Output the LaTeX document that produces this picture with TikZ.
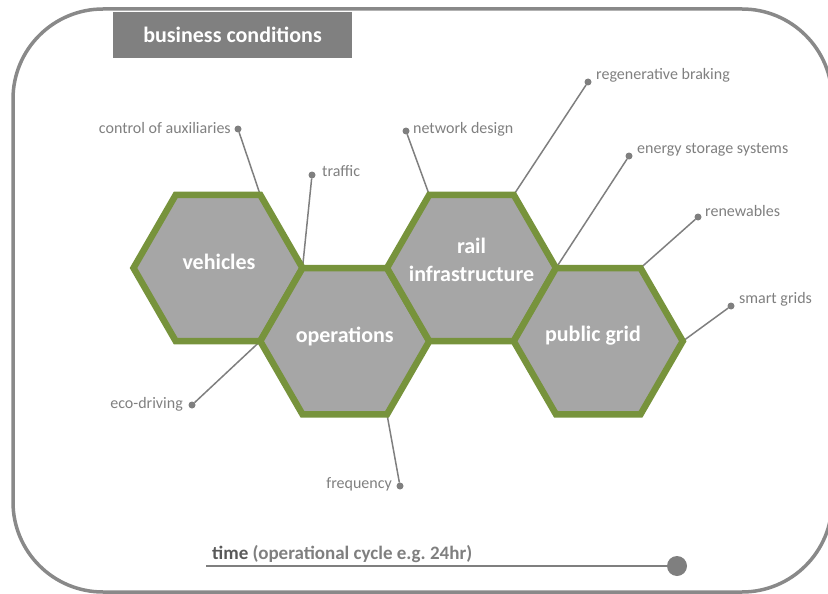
\documentclass[tikz,border=0pt]{standalone}
\usepackage{fontspec}
\setmainfont{Carlito}
\usetikzlibrary{shapes.geometric}
\definecolor{hexfill}{HTML}{A6A6A6}
\definecolor{hexgreen}{HTML}{77933C}
\definecolor{lgray}{HTML}{7F7F7F}
\definecolor{framegray}{HTML}{898989}
\definecolor{tgray}{HTML}{808080}
\definecolor{dgray}{HTML}{595959}
\pgfdeclarelayer{bg}
\pgfsetlayers{bg,main}
\frenchspacing
\begin{document}
\begin{tikzpicture}[x=1pt,y=-1pt,
  hexa/.style={regular polygon, regular polygon sides=6, minimum size=169pt, inner sep=0pt, outer sep=0pt,
    draw=hexgreen, line width=6.5pt, fill=hexfill},
  hextext/.style={text=white, font=\fontsize{22}{28}\selectfont\bfseries, align=center, inner sep=0pt},
  dotn/.style={circle, fill=lgray, inner sep=0pt, minimum size=7pt, outer sep=0pt},
  lbl/.style={text=lgray, font=\fontsize{16}{19}\selectfont, inner sep=0pt},
  conn/.style={draw=lgray, line width=1.5pt}]
\useasboundingbox (0,0) rectangle (828,594);
\clip (0,0) rectangle (828,594);
% frame
\draw[framegray, line width=3.5pt, rounded corners=90pt] (13,9) rectangle (832,592);
% title
\node[fill=tgray, minimum width=239pt, minimum height=46pt, inner sep=0pt, text=white,
  font=\fontsize{22}{26}\selectfont\bfseries] (title) at (232.5,35) {business conditions};
% hexagons
\node[hexa] (veh) at (218,268) {};
\node[hexa] (ops) at (344.75,341.2) {};
\node[hexa] (rail) at (471.5,268) {};
\node[hexa] (pg) at (598.25,341.2) {};
\node[hextext] (vehtxt) at (219,262) {vehicles};
\node[hextext] (opstxt) at (344.75,336) {operations};
\node[hextext] (railtxt) at (471.5,260) {rail\\infrastructure};
\node[hextext] (pgtxt) at (593,336) {public grid};
% dots
\node[dotn] (dA) at (238,129) {};
\node[dotn] (dT) at (312,175) {};
\node[dotn] (dN) at (406,131) {};
\node[dotn] (dR) at (588,82) {};
\node[dotn] (dE) at (629,156) {};
\node[dotn] (dW) at (698,217) {};
\node[dotn] (dS) at (731,306) {};
\node[dotn] (dD) at (192,405) {};
\node[dotn] (dF) at (400,486) {};
% labels
\node[lbl, anchor=east] (lA) at (231,128) {control of auxiliaries};
\node[lbl, anchor=west] (lT) at (322,171) {traffic};
\node[lbl, anchor=west] (lN) at (413,129) {network design};
\node[lbl, anchor=west] (lR) at (596,75) {regenerative braking};
\node[lbl, anchor=west] (lE) at (637,150) {energy storage systems};
\node[lbl, anchor=west] (lW) at (705,211) {renewables};
\node[lbl, anchor=west] (lS) at (739,299) {smart grids};
\node[lbl, anchor=east] (lD) at (183,404) {eco-driving};
\node[lbl, anchor=east] (lF) at (392,484) {frequency};
% connectors
\begin{pgfonlayer}{bg}
\draw[conn] (dA) -- (veh.60);
\draw[conn] (dT) -- (veh.0);
\draw[conn] (dN) -- (rail.120);
\draw[conn] (dR) -- (rail.60);
\draw[conn] (dE) -- (rail.0);
\draw[conn] (dW) -- (pg.60);
\draw[conn] (dS) -- (pg.0);
\draw[conn] (dD) -- (veh.300);
\draw[conn] (dF) -- (ops.300);
\end{pgfonlayer}
% time axis
\node[circle, fill=lgray, minimum size=20pt, inner sep=0pt] (tend) at (677,566) {};
\coordinate (tstart) at (206,566);
\draw[lgray, line width=2.5pt] (tstart) -- (tend);
\node[anchor=base west, inner sep=0pt, font=\fontsize{19}{22}\selectfont\bfseries, text=lgray] (tlbl) at (212,559)
  {\textcolor{dgray}{time} (operational cycle e.g. 24hr)};
\end{tikzpicture}
\end{document}
